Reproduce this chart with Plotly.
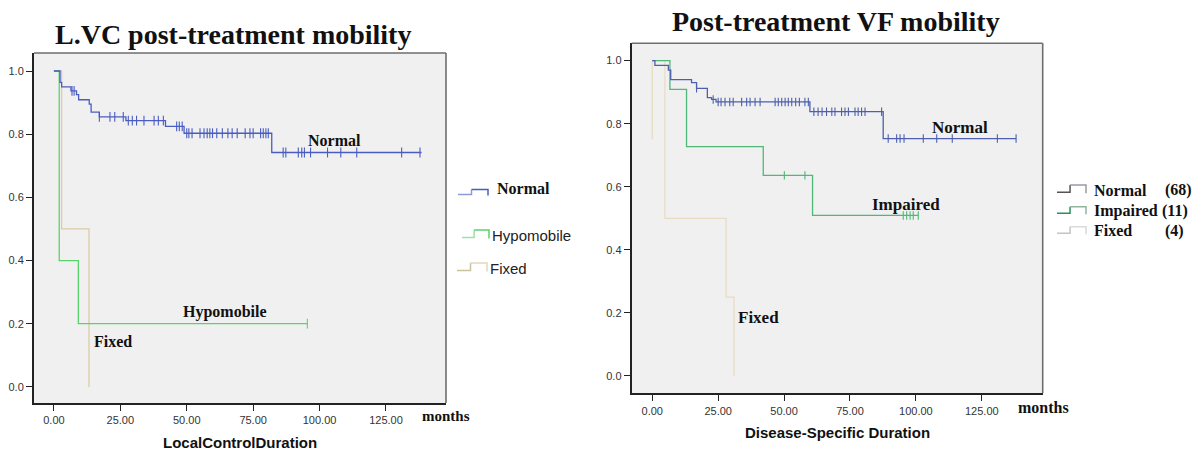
import numpy as np
import plotly.graph_objects as go

# ---------------- data ----------------
# Left panel: local control by L.VC post-treatment mobility (months, survival)
lvc_normal_t = [0, 2.3, 2.9, 6.4, 8.5, 9.3, 13.3, 14.0, 17.1, 27.1, 42.0, 49.0, 82.0, 138.4]
lvc_normal_s = [1.0, 0.964, 0.950, 0.937, 0.925, 0.909, 0.895, 0.870, 0.855, 0.843, 0.825, 0.803, 0.742, 0.742]
lvc_normal_censor = [6.8, 7.6, 17.1, 21.1, 22.9, 26.1, 28.0, 29.5, 31.1, 33.9, 37.7, 39.3, 41.2,
                     46.2, 47.2, 48.3, 50.0, 50.8, 52.0, 55.0, 56.5, 57.7, 58.7, 59.7, 61.3,
                     63.4, 65.5, 67.1, 69.0, 72.0, 73.8, 75.0, 77.8, 78.8, 79.8, 80.7, 86.3,
                     87.3, 92.0, 93.3, 94.3, 96.6, 103.0, 108.0, 114.0, 130.9, 137.8]
lvc_hypo_t = [0, 2.0, 9.2, 95.4]
lvc_hypo_s = [1.0, 0.4, 0.2, 0.2]
lvc_hypo_censor = [95.4]
lvc_fixed_t = [0, 2.9, 13.2]
lvc_fixed_s = [1.0, 0.5, 0.0]

# Right panel: disease-specific survival by VF mobility
vf_normal_t = [0, 1.0, 6.1, 7.0, 14.9, 16.8, 20.9, 22.5, 24.2, 59.8, 87.6, 138.0]
vf_normal_s = [1.0, 0.985, 0.970, 0.940, 0.930, 0.912, 0.883, 0.877, 0.869, 0.838, 0.753, 0.753]
vf_normal_censor = [16.8, 23.1, 25.0, 26.1, 27.6, 29.4, 30.7, 33.9, 35.8, 37.1, 39.0, 40.9, 46.6,
                    47.8, 49.1, 50.4, 51.6, 52.9, 54.4, 55.8, 57.9, 59.2, 61.3, 62.9, 64.4,
                    66.1, 68.1, 69.3, 71.8, 73.1, 74.4, 76.9, 78.1, 79.4, 80.7, 87.0, 89.5,
                    92.7, 94.0, 95.5, 102.8, 107.9, 113.8, 130.9, 138.0]
vf_impaired_t = [0, 6.7, 13.0, 42.1, 60.8, 100.9]
vf_impaired_s = [1.0, 0.909, 0.727, 0.636, 0.509, 0.509]
vf_impaired_censor = [50.1, 57.9, 95.2, 96.5, 97.8, 99.0, 100.9]
vf_fixed_t = [0, 4.8, 28.0, 31.0]
vf_fixed_s = [1.0, 0.5, 0.25, 0.0]
vf_fixed_early_t = [0, 0]
vf_fixed_early_s = [1.0, 0.75]

x_ticks = [0, 25, 50, 75, 100, 125]
y_ticks = [0.0, 0.2, 0.4, 0.6, 0.8, 1.0]

legend_left = ["Normal", "Hypomobile", "Fixed"]
legend_right = ["Normal", "Impaired", "Fixed"]
legend_right_n = ["(68)", "(11)", "(4)"]

# ---------------- styling ----------------
W, H = 1199, 450
SERIF = "Liberation Serif, Times New Roman, serif"
SANS = "Liberation Sans, Arial, sans-serif"

C_L_NORMAL = "#4a5cc2"
C_L_HYPO = "#5ad46a"
C_L_FIXED = "#dccca6"
C_R_NORMAL = "#4d5fae"
C_R_IMP = "#4fb878"
C_R_FIXED = "#e8dcc4"


def fx(p):
    return p / W


def fy(p):
    return 1 - p / H


def value_at(times, surv, t):
    idx = np.searchsorted(np.asarray(times), np.asarray(t), side="right") - 1
    return np.asarray(surv)[idx]


fig = go.Figure()


def add_curve(times, surv, censor, color, xa, ya, msize=7):
    fig.add_trace(go.Scatter(
        x=times, y=surv, mode="lines", xaxis=xa, yaxis=ya,
        line=dict(color=color, width=1.3, shape="hv"),
        showlegend=False, hoverinfo="skip"))
    if censor:
        fig.add_trace(go.Scatter(
            x=censor, y=value_at(times, surv, censor), mode="markers",
            xaxis=xa, yaxis=ya,
            marker=dict(symbol="line-ns", size=msize, line=dict(width=1.1, color=color)),
            showlegend=False, hoverinfo="skip"))


# left panel curves
add_curve(lvc_fixed_t, lvc_fixed_s, None, C_L_FIXED, "x", "y")
add_curve(lvc_hypo_t, lvc_hypo_s, lvc_hypo_censor, C_L_HYPO, "x", "y")
add_curve(lvc_normal_t, lvc_normal_s, lvc_normal_censor, C_L_NORMAL, "x", "y")

# right panel curves
add_curve(vf_fixed_early_t, vf_fixed_early_s, None, C_R_FIXED, "x2", "y2")
add_curve(vf_fixed_t, vf_fixed_s, None, C_R_FIXED, "x2", "y2")
add_curve(vf_impaired_t, vf_impaired_s, vf_impaired_censor, C_R_IMP, "x2", "y2", 6)
add_curve(vf_normal_t, vf_normal_s, vf_normal_censor, C_R_NORMAL, "x2", "y2", 6)

tickfont = dict(family=SANS, size=11, color="#333333")


def xaxis_cfg(domain, rng, anchor):
    return dict(domain=domain, range=rng, anchor=anchor, tickvals=x_ticks, tickformat=".2f",
                showline=True, linecolor="#222222", linewidth=2, mirror=False,
                ticks="outside", ticklen=6, tickwidth=1.3, tickcolor="#222222",
                showgrid=False, zeroline=False, tickfont=tickfont, fixedrange=True)


def yaxis_cfg(domain, rng, anchor):
    return dict(domain=domain, range=rng, anchor=anchor, tickvals=y_ticks, tickformat=".1f",
                showline=True, linecolor="#222222", linewidth=2, mirror=False,
                ticks="outside", ticklen=6, tickwidth=1.3, tickcolor="#222222",
                showgrid=False, zeroline=False, tickfont=tickfont, fixedrange=True)


shapes = []
# upper and right frame edges in grey
for xr, yr in (("x domain", "y domain"), ("x2 domain", "y2 domain")):
    shapes.append(dict(type="line", xref=xr, yref=yr, x0=0, x1=1, y0=1, y1=1,
                       line=dict(color="#6e6e6e", width=1.6)))
    shapes.append(dict(type="line", xref=xr, yref=yr, x0=1, x1=1, y0=0, y1=1,
                       line=dict(color="#6e6e6e", width=1.6)))


def step_icon(x0, x1, ylow, yhigh, c_low, c_high):
    xm = x0 + (x1 - x0) * 0.45
    shapes.append(dict(type="path", xref="paper", yref="paper",
                       path=f"M {fx(x0)},{fy(ylow)} L {fx(xm)},{fy(ylow)} L {fx(xm)},{fy(yhigh)}",
                       line=dict(color=c_low, width=1.5)))
    shapes.append(dict(type="path", xref="paper", yref="paper",
                       path=f"M {fx(xm)},{fy(yhigh)} L {fx(x1)},{fy(yhigh)} L {fx(x1)},{fy(ylow + 1)}",
                       line=dict(color=c_high, width=1.5)))


# left legend icons
step_icon(458, 488, 194.5, 189.5, "#8e9ad8", C_L_NORMAL)
step_icon(462, 489, 237.5, 230.0, "#9fe0a8", C_L_HYPO)
step_icon(457, 487, 270.5, 263.0, "#c9c49a", "#e2d8bc")
# right legend icons
step_icon(1057, 1086, 192.3, 185.0, "#555555", "#9a9aa6")
step_icon(1057, 1086, 213.3, 206.7, "#2f8f5c", "#8fb59c")
step_icon(1057, 1086, 233.3, 226.7, "#c4c4c4", "#dadada")

annotations = []


def text(s, x, y, font, xanchor="center", xref="paper", yref="paper"):
    annotations.append(dict(text=s, x=x, y=y, xref=xref, yref=yref, xanchor=xanchor,
                            yanchor="middle", showarrow=False, font=font))


bold_serif = lambda size: dict(family=SERIF, size=size, color="#111111", weight="bold")

# titles
text("L.VC post-treatment mobility", fx(233), fy(34), bold_serif(28))
text("Post-treatment VF mobility", fx(835.5), fy(22), bold_serif(28))

# axis titles and units
text("LocalControlDuration", fx(240), fy(442),
     dict(family=SANS, size=15, color="#111111", weight="bold"))
text("Disease-Specific Duration", fx(837), fy(432),
     dict(family=SANS, size=15, color="#111111", weight="bold"))
text("months", fx(445.5), fy(416), bold_serif(15))
text("months", fx(1043), fy(407), bold_serif(16))

# curve labels inside the panels
text("Normal", 105.8, 0.779, bold_serif(16), xref="x", yref="y")
text("Hypomobile", 64.4, 0.236, bold_serif(16), xref="x", yref="y")
text("Fixed", 22.2, 0.144, bold_serif(16), xref="x", yref="y")
text("Normal", 116.7, 0.788, bold_serif(17), xref="x2", yref="y2")
text("Impaired", 96.2, 0.544, bold_serif(17), xref="x2", yref="y2")
text("Fixed", 40.2, 0.185, bold_serif(17), xref="x2", yref="y2")

# left legend labels
text(legend_left[0], fx(495), fy(189), dict(family=SERIF, size=16, color="#111111", weight="bold"),
     xanchor="left")
text(legend_left[1], fx(490), fy(235.5), dict(family=SANS, size=15, color="#222222"), xanchor="left")
text(legend_left[2], fx(488), fy(268), dict(family=SANS, size=15, color="#222222"), xanchor="left")

# right legend labels with group sizes
for i, (lab, n) in enumerate(zip(legend_right, legend_right_n)):
    yy = [190, 210.7, 230.7][i]
    text(lab, fx(1092), fy(yy), bold_serif(16), xanchor="left")
    text(n, fx(1163 if n != "(11)" else 1160), fy(yy), bold_serif(16), xanchor="left")

fig.update_layout(
    width=W, height=H,
    margin=dict(l=0, r=0, t=0, b=0),
    paper_bgcolor="white",
    plot_bgcolor="#f0f0f0",
    showlegend=False,
    xaxis=xaxis_cfg([fx(34), fx(446)], [-7.5, 147.6], "y"),
    yaxis=yaxis_cfg([fy(403), fy(53)], [-0.051, 1.057], "x"),
    xaxis2=xaxis_cfg([fx(631.7), fx(1042.7)], [-7.8, 148.1], "y2"),
    yaxis2=yaxis_cfg([fy(393.3), fy(43.3)], [-0.055, 1.055], "x2"),
    shapes=shapes,
    annotations=annotations,
)

fig.write_html("out.html")
